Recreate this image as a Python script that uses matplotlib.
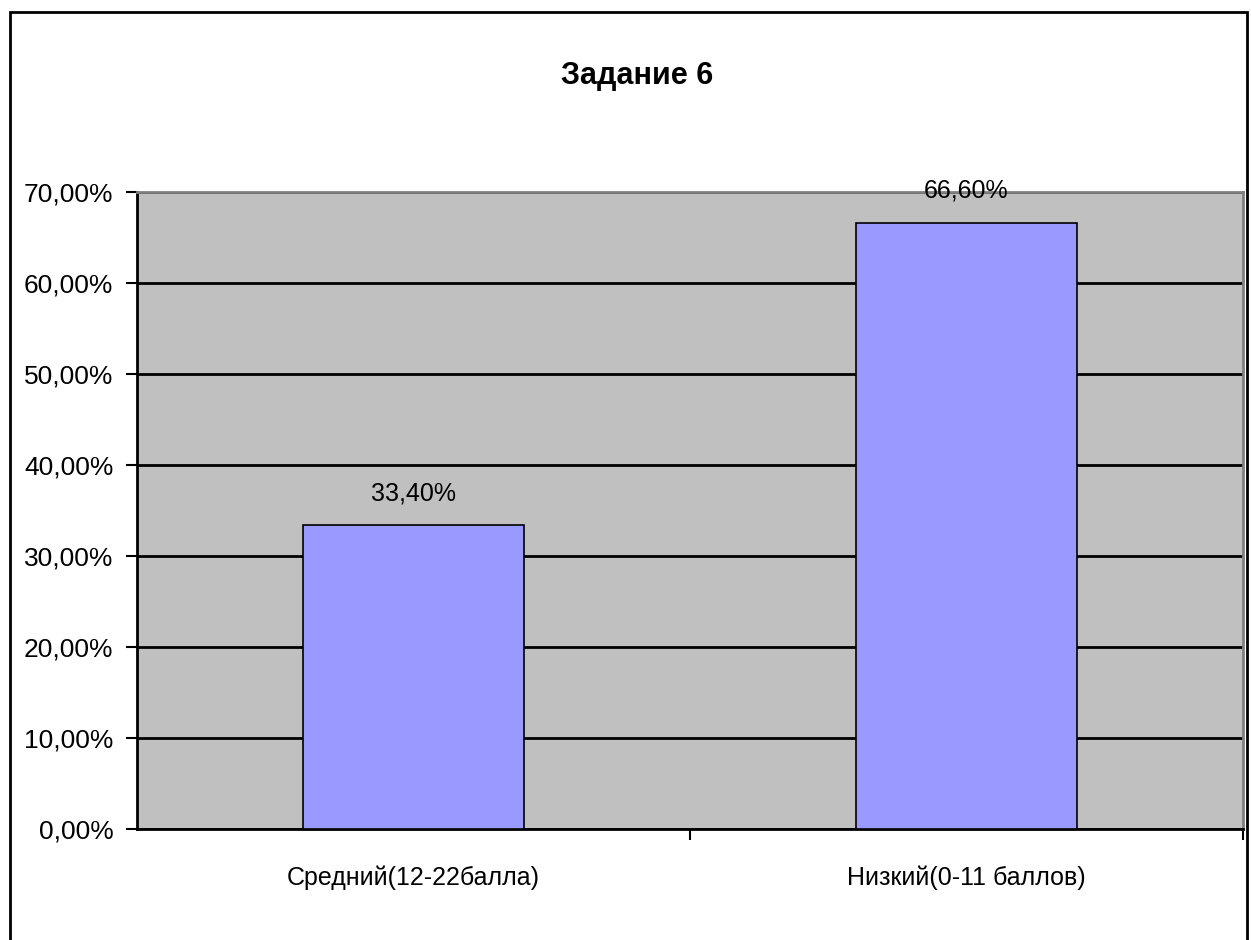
import matplotlib
matplotlib.use("Agg")
import matplotlib.pyplot as plt
from matplotlib.ticker import FuncFormatter, FixedLocator
from matplotlib.patches import Rectangle

categories = ["Средний(12-22балла)", "Низкий(0-11 баллов)"]
values = [33.4, 66.6]
value_labels = ["33,40%", "66,60%"]
y_ticks = [0, 10, 20, 30, 40, 50, 60, 70]
title = "Задание 6"

plt.rcParams['font.family'] = ["Liberation Sans", "DejaVu Sans"]

W, H = 1251, 940
fig = plt.figure(figsize=(W / 100, H / 100), dpi=100)
fig.patch.set_facecolor("white")
fig.add_artist(Rectangle((10 / W, -0.05), (1247 - 10) / W, 1.05 - 12 / H, transform=fig.transFigure,
                         fill=False, edgecolor="black", linewidth=2))

ax = fig.add_axes([137 / W, (H - 829) / H, (1243 - 137) / W, (829 - 192) / H])
ax.set_facecolor("#C0C0C0")
x = list(range(len(categories)))
ax.bar(x, values, width=0.4, color="#9999FF", edgecolor="black", linewidth=1.2, zorder=3)
ax.set_xlim(-0.5, 1.5)
ax.set_ylim(0, 70)
ax.yaxis.set_major_locator(FixedLocator(y_ticks))
ax.yaxis.set_major_formatter(FuncFormatter(lambda v, p: f"{v:.2f}%".replace(".", ",")))
ax.grid(axis="y", color="black", linewidth=2, zorder=1)
ax.set_axisbelow(True)
ax.tick_params(axis="y", length=8, width=1.5, labelsize=19, pad=9, direction="out")
ax.set_xticks([0.5, 1.5])
ax.set_xticklabels([])
ax.set_xticks(x, minor=True)
ax.set_xticklabels(categories, minor=True)
ax.tick_params(axis="x", which="major", length=8, width=1.5, direction="out")
ax.tick_params(axis="x", which="minor", length=0, labelsize=18, pad=26)
for s in ["top", "right"]:
    ax.spines[s].set_color("#808080")
    ax.spines[s].set_linewidth(2)
for s in ["left", "bottom"]:
    ax.spines[s].set_color("black")
    ax.spines[s].set_linewidth(2)
for xi, v, lab in zip(x, values, value_labels):
    ax.text(xi, v + 2.2, lab, ha="center", va="bottom", fontsize=18, zorder=5, clip_on=False)

fig.text(637 / W, 1 - 76 / H, title, ha="center", va="center", fontsize=22, fontweight="bold")
fig.savefig("out.png", dpi=100)
